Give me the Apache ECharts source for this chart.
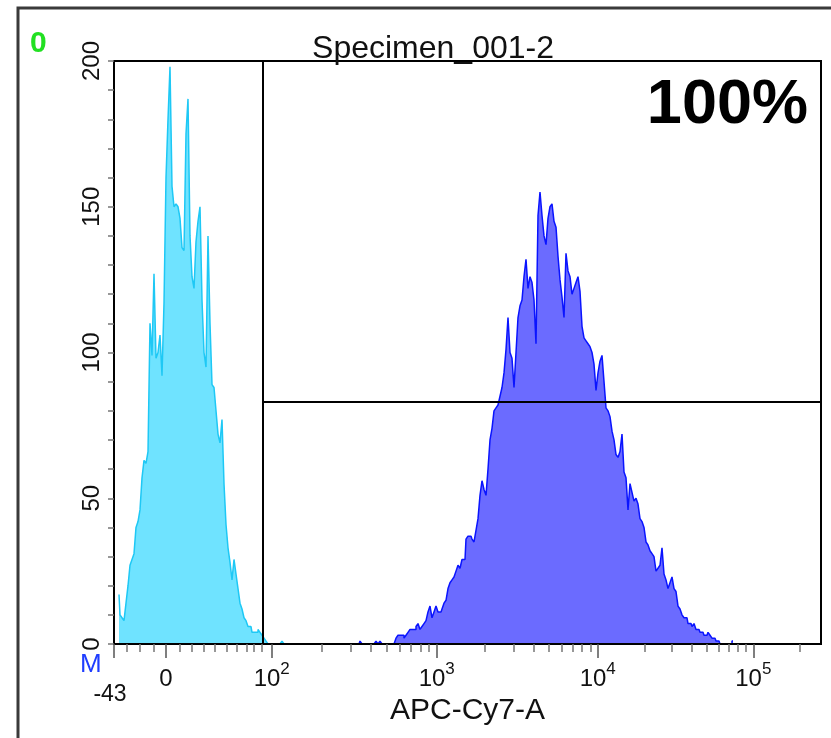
<!DOCTYPE html>
<html>
<head>
<meta charset="utf-8">
<script src="https://cdn.jsdelivr.net/npm/echarts@6/dist/echarts.min.js"></script>
<style>
  html, body { margin: 0; padding: 0; background: #fff; }
  #main { width: 831px; height: 738px; }
</style>
</head>
<body>
<div id="main"></div>
<script>
// histogram bins in display channels (0..707 across the plot), 2 channels per bin
let binWidth = 2;
let cyanStart = 4;
let cyanCounts = [
  17, 10, 9, 8, 14, 20, 27, 29, 31, 40, 42, 46, 57, 63, 62, 66, 110, 99, 127, 98,
  100, 106, 92, 117, 160, 180, 198, 157, 150, 151, 150, 146, 136, 135, 175, 187, 140, 126, 122, 138,
  145, 150, 118, 100, 95, 140, 110, 89, 88, 80, 72, 69, 77, 55, 41, 33, 28, 22, 29, 24,
  19, 14, 12, 9, 8, 6, 6, 4, 4, 4, 5, 4, 3, 2, 1, 0, 0, 0, 0, 0,
  0, 0, 1, 0
];
let blueStart = 244;
let blueCounts = [
  0, 1, 0, 0, 0, 0, 0, 0, 0, 1, 0, 1, 0, 0, 0, 0, 0, 0, 0,
  2, 3, 3, 3, 2, 3, 4, 5, 5, 5, 6, 7, 5, 6, 7, 8, 11, 13, 9, 11,
  13, 11, 11, 12, 14, 15, 19, 21, 22, 23, 25, 27, 26, 29, 29, 36, 37, 37, 36, 35,
  39, 43, 51, 56, 53, 51, 60, 70, 74, 80, 81, 82, 85, 88, 93, 101, 112, 100, 98, 88,
  100, 112, 116, 118, 126, 132, 122, 126, 124, 118, 103, 147, 155, 147, 140, 137, 146, 150,
  151, 145, 143, 133, 125, 119, 112, 134, 128, 126, 120, 122, 124, 126, 121, 109, 105, 104, 103, 102,
  100, 96, 87, 93, 97, 99, 90, 81, 80, 78, 73, 70, 65, 64, 66, 72, 59, 57, 46, 55,
  52, 49, 50, 48, 43, 42, 40, 35, 34, 32, 31, 30, 25, 26, 27, 33, 24, 22, 19, 21,
  23, 19, 18, 13, 12, 10, 9, 9, 7, 7, 6, 7, 5, 5, 4, 4, 3, 3, 4, 3,
  2, 2, 1, 1, 0, 0, 0, 0, 0, 0, 1
];

// x axis: channel of 10^2 .. 10^6 and the ticks of the linear part near zero
let chMax = 707;
let decadeCh = [157.7, 322.7, 483.7, 639.3, 794.3];
let linTickCh = [12.5, 26, 39.3, 66, 77.7, 89.3, 101, 112.7, 122.7, 132.7, 140, 147.7];
let labelCh = [52, 157.7, 322.7, 483.7, 639.3];
let labelText = ["{b|0}", "{b|10}{s|2}", "{b|10}{s|3}", "{b|10}{s|4}", "{b|10}{s|5}"];
let lowCh = 0;
let lowText = "-43";

// gate marker
let gateCh = 149;
let gateLevel = 83;

let toPoints = (start, counts) =>
  counts.map((v, i) => [start + i * binWidth + binWidth / 2, v]);

let minorCh = linTickCh.slice();
for (let d = 0; d < decadeCh.length - 1; d++) {
  for (let m = 2; m <= 9; m++) {
    let c = decadeCh[d] + Math.log10(m) * (decadeCh[d + 1] - decadeCh[d]);
    if (c < chMax) minorCh.push(c);
  }
}
let majorCh = [lowCh].concat(labelCh);

let font = "Liberation Sans";

let option = {
  animation: false,
  grid: {
    left: 114,
    top: 61,
    width: 707,
    height: 583,
    show: true,
    borderColor: "#000",
    borderWidth: 2,
  },
  title: {
    text: "Specimen_001-2",
    left: 428,
    top: 28,
    textAlign: "center",
    textStyle: { fontFamily: font, fontSize: 32, fontWeight: "normal", color: "#111" },
  },
  xAxis: [
    {
      type: "value",
      min: 0,
      max: chMax,
      position: "bottom",
      z: 5,
      axisLine: { show: true, lineStyle: { color: "#000", width: 2 } },
      axisTick: {
        show: true,
        customValues: majorCh,
        length: 14,
        lineStyle: { color: "#555", width: 1.5 },
      },
      axisLabel: {
        customValues: labelCh,
        margin: 17,
        color: "#111",
        fontFamily: font,
        fontSize: 24,
        formatter: (v) => {
          let i = labelCh.findIndex((c) => Math.abs(c - v) < 0.01);
          return i < 0 ? "" : labelText[i];
        },
        rich: {
          b: { fontFamily: font, fontSize: 24, lineHeight: 36, color: "#111" },
          s: { fontFamily: font, fontSize: 17, verticalAlign: "top", color: "#111" },
        },
      },
      splitLine: { show: false },
      name: "APC-Cy7-A",
      nameLocation: "middle",
      nameGap: 39,
      nameTextStyle: { fontFamily: font, fontSize: 30, color: "#111", verticalAlign: "top" },
    },
    {
      type: "value",
      min: 0,
      max: chMax,
      position: "bottom",
      z: 5,
      axisLine: { show: false },
      axisTick: {
        show: true,
        customValues: minorCh,
        length: 8,
        lineStyle: { color: "#777", width: 1.5 },
      },
      axisLabel: {
        customValues: [lowCh],
        margin: 39,
        color: "#111",
        fontFamily: font,
        fontSize: 23,
        padding: [0, 8, 0, 0],
        formatter: () => lowText,
      },
      splitLine: { show: false },
    },
  ],
  yAxis: {
    type: "value",
    min: 0,
    max: 200,
    interval: 10,
    z: 5,
    axisLine: { show: true, lineStyle: { color: "#000", width: 2 } },
    axisTick: { show: true, length: 6, lineStyle: { color: "#777", width: 1.5 } },
    axisLabel: {
      rotate: 90,
      margin: 10,
      color: "#111",
      fontFamily: font,
      fontSize: 24,
      formatter: (v) => (v % 50 === 0 ? String(v) : ""),
    },
    splitLine: { show: false },
  },
  graphic: [
    {
      type: "rect",
      shape: { x: 18, y: 8, width: 900, height: 900 },
      style: { fill: "none", stroke: "#3a3a3a", lineWidth: 3 },
      silent: true,
    },
    {
      type: "text",
      left: 30,
      top: 29,
      style: { text: "0", fontFamily: font, fontSize: 30, fontWeight: "bold", fill: "#22e022" },
    },
    {
      type: "text",
      left: 80,
      top: 652,
      style: { text: "M", fontFamily: font, fontSize: 26, fill: "#1f3dff" },
    },
    {
      type: "text",
      right: 23,
      top: 74,
      style: { text: "100%", fontFamily: font, fontSize: 63, fontWeight: "bold", fill: "#000" },
    },
  ],
  series: [
    {
      type: "line",
      step: "middle",
      symbol: "none",
      data: toPoints(cyanStart, cyanCounts),
      itemStyle: { color: "#1ec8f5" },
      lineStyle: { color: "#1ec8f5", width: 1.5 },
      areaStyle: { color: "#6fe3ff", opacity: 1 },
    },
    {
      type: "line",
      step: "middle",
      symbol: "none",
      data: toPoints(blueStart, blueCounts),
      itemStyle: { color: "#0a14ff" },
      lineStyle: { color: "#0a14ff", width: 1.5 },
      areaStyle: { color: "#6b6bff", opacity: 1 },
      markLine: {
        silent: true,
        symbol: "none",
        label: { show: false },
        lineStyle: { color: "#000", width: 2, type: "solid" },
        data: [
          [{ coord: [gateCh, 0] }, { coord: [gateCh, 200] }],
          [{ coord: [gateCh, gateLevel] }, { coord: [chMax, gateLevel] }],
        ],
      },
    },
  ],
};

var myChart = echarts.init(document.getElementById("main"));
myChart.setOption(option);
</script>
</body>
</html>
